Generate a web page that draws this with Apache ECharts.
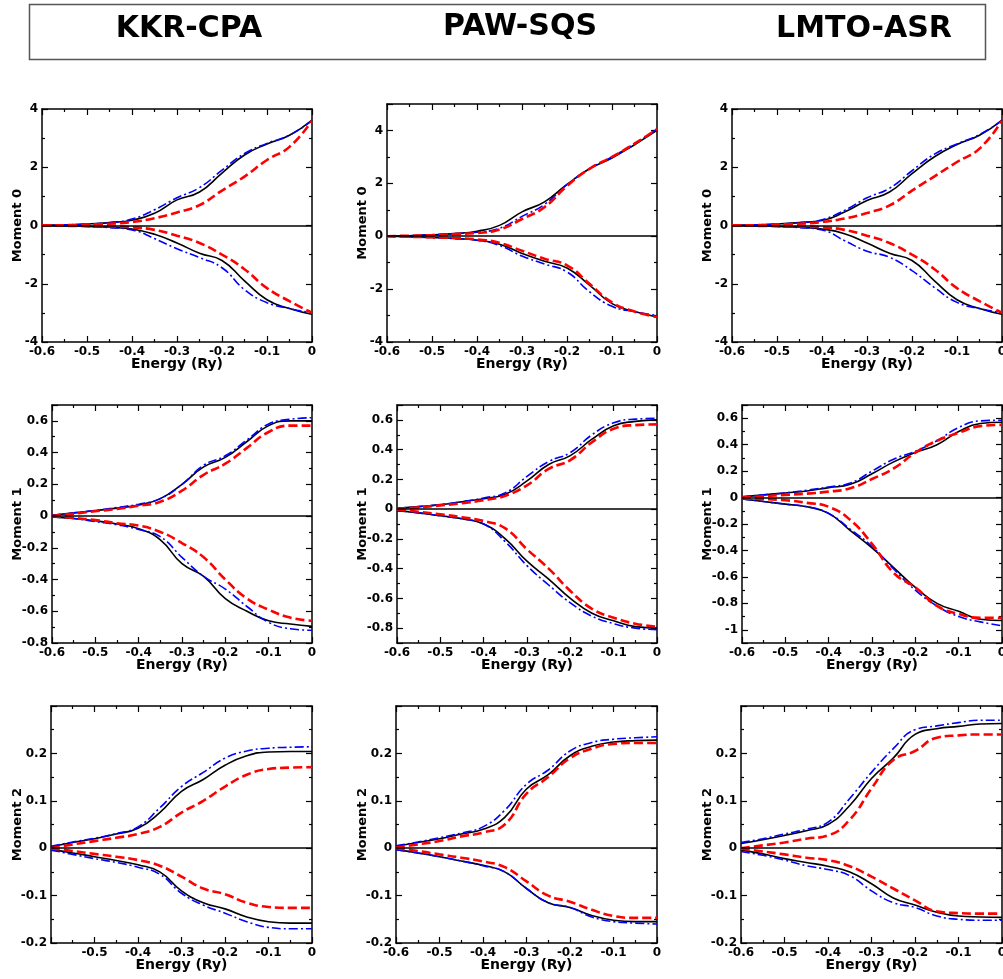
<!DOCTYPE html>
<html>
<head>
<meta charset="utf-8">
<script src="https://cdn.jsdelivr.net/npm/echarts@6/dist/echarts.min.js"></script>
<style>
  html, body { margin: 0; padding: 0; background: #fff; }
  #main { width: 1003px; height: 979px; }
</style>
</head>
<body>
<div id="main"></div>
<script>
// energy grid (Ry)
const energy = [-0.6, -0.55, -0.5, -0.45, -0.4, -0.35, -0.3, -0.25, -0.2, -0.15, -0.1, -0.05, 0];

const methods = ['KKR-CPA', 'PAW-SQS', 'LMTO-ASR'];

// ---- Moment 0 ----
const kkrM0SolidUp = [0, 0.02, 0.05, 0.1, 0.18, 0.42, 0.88, 1.15, 1.8, 2.42, 2.8, 3.1, 3.62];
const kkrM0DashDotUp = [0, 0.02, 0.05, 0.1, 0.22, 0.54, 0.95, 1.3, 1.9, 2.47, 2.82, 3.1, 3.6];
const kkrM0DashUp = [0, 0.01, 0.03, 0.06, 0.12, 0.25, 0.45, 0.7, 1.2, 1.68, 2.25, 2.7, 3.6];
const kkrM0SolidDn = [0, -0.01, -0.03, -0.06, -0.12, -0.3, -0.6, -0.95, -1.2, -1.9, -2.55, -2.85, -3.05];
const kkrM0DashDotDn = [0, -0.01, -0.03, -0.07, -0.15, -0.45, -0.8, -1.1, -1.45, -2.2, -2.65, -2.85, -3.0];
const kkrM0DashDn = [0, -0.01, -0.02, -0.03, -0.06, -0.15, -0.35, -0.6, -1.0, -1.5, -2.15, -2.6, -3.0];

const pawM0SolidUp = [0, 0.02, 0.05, 0.1, 0.19, 0.41, 0.92, 1.3, 1.96, 2.55, 2.96, 3.46, 4.0];
const pawM0DashDotUp = [0, 0.02, 0.05, 0.1, 0.15, 0.3, 0.75, 1.2, 1.95, 2.55, 3.0, 3.5, 4.05];
const pawM0DashUp = [0, 0.02, 0.04, 0.08, 0.12, 0.25, 0.65, 1.1, 1.9, 2.55, 3.0, 3.5, 4.05];
const pawM0SolidDn = [0, -0.02, -0.05, -0.08, -0.15, -0.3, -0.65, -0.95, -1.2, -1.85, -2.55, -2.85, -3.05];
const pawM0DashDotDn = [0, -0.02, -0.05, -0.09, -0.15, -0.35, -0.75, -1.05, -1.35, -2.1, -2.65, -2.85, -3.0];
const pawM0DashDn = [0, -0.02, -0.04, -0.07, -0.12, -0.25, -0.55, -0.85, -1.1, -1.8, -2.5, -2.85, -3.05];

const lmtoM0SolidUp = [0, 0.02, 0.05, 0.1, 0.17, 0.46, 0.86, 1.15, 1.78, 2.36, 2.78, 3.1, 3.62];
const lmtoM0DashDotUp = [0, 0.02, 0.05, 0.1, 0.2, 0.52, 0.95, 1.28, 1.88, 2.45, 2.8, 3.12, 3.6];
const lmtoM0DashUp = [0, 0.01, 0.03, 0.06, 0.12, 0.24, 0.43, 0.69, 1.2, 1.69, 2.18, 2.64, 3.6];
const lmtoM0SolidDn = [0, -0.01, -0.03, -0.06, -0.12, -0.28, -0.6, -0.95, -1.2, -1.9, -2.55, -2.85, -3.05];
const lmtoM0DashDotDn = [0, -0.01, -0.03, -0.07, -0.15, -0.52, -0.88, -1.09, -1.55, -2.13, -2.64, -2.85, -3.0];
const lmtoM0DashDn = [0, -0.01, -0.02, -0.03, -0.06, -0.15, -0.35, -0.6, -1.0, -1.5, -2.15, -2.6, -3.0];

// ---- Moment 1 ----
const kkrM1SolidUp = [0.005, 0.02, 0.035, 0.05, 0.07, 0.11, 0.2, 0.31, 0.37, 0.47, 0.57, 0.6, 0.6];
const kkrM1DashDotUp = [0.005, 0.02, 0.035, 0.055, 0.075, 0.11, 0.2, 0.32, 0.38, 0.48, 0.58, 0.61, 0.62];
const kkrM1DashUp = [0, 0.015, 0.03, 0.045, 0.065, 0.09, 0.16, 0.26, 0.33, 0.43, 0.53, 0.57, 0.57];
const kkrM1SolidDn = [-0.005, -0.015, -0.03, -0.05, -0.08, -0.15, -0.3, -0.38, -0.52, -0.6, -0.66, -0.68, -0.695];
const kkrM1DashDotDn = [-0.005, -0.015, -0.035, -0.055, -0.085, -0.13, -0.26, -0.38, -0.46, -0.57, -0.67, -0.71, -0.72];
const kkrM1DashDn = [0, -0.012, -0.025, -0.045, -0.06, -0.1, -0.17, -0.26, -0.4, -0.52, -0.59, -0.64, -0.66];

const pawM1SolidUp = [0.005, 0.017, 0.03, 0.05, 0.07, 0.1, 0.19, 0.3, 0.36, 0.47, 0.56, 0.59, 0.6];
const pawM1DashDotUp = [0.005, 0.017, 0.03, 0.05, 0.075, 0.11, 0.22, 0.32, 0.38, 0.5, 0.58, 0.605, 0.61];
const pawM1DashUp = [0, 0.012, 0.025, 0.04, 0.06, 0.09, 0.16, 0.27, 0.33, 0.45, 0.54, 0.565, 0.57];
const pawM1SolidDn = [-0.01, -0.025, -0.045, -0.065, -0.1, -0.2, -0.35, -0.47, -0.6, -0.7, -0.75, -0.79, -0.8];
const pawM1DashDotDn = [-0.01, -0.025, -0.045, -0.065, -0.1, -0.22, -0.38, -0.51, -0.63, -0.72, -0.77, -0.8, -0.81];
const pawM1DashDn = [0, -0.018, -0.035, -0.055, -0.08, -0.13, -0.27, -0.4, -0.55, -0.67, -0.73, -0.77, -0.79];

const lmtoM1SolidUp = [0.005, 0.02, 0.035, 0.05, 0.075, 0.1, 0.18, 0.27, 0.34, 0.4, 0.5, 0.56, 0.57];
const lmtoM1DashDotUp = [0.005, 0.02, 0.035, 0.055, 0.08, 0.11, 0.2, 0.29, 0.35, 0.43, 0.53, 0.58, 0.585];
const lmtoM1DashUp = [0, 0.01, 0.02, 0.03, 0.045, 0.07, 0.14, 0.22, 0.34, 0.43, 0.49, 0.54, 0.55];
const lmtoM1SolidDn = [-0.01, -0.03, -0.05, -0.07, -0.12, -0.25, -0.38, -0.53, -0.68, -0.8, -0.86, -0.92, -0.93];
const lmtoM1DashDotDn = [-0.01, -0.03, -0.05, -0.07, -0.12, -0.24, -0.37, -0.54, -0.7, -0.82, -0.9, -0.94, -0.97];
const lmtoM1DashDn = [-0.005, -0.012, -0.02, -0.04, -0.07, -0.17, -0.35, -0.57, -0.68, -0.82, -0.88, -0.91, -0.91];

// ---- Moment 2 ----
const kkrM2SolidUp = [0.003, 0.012, 0.02, 0.03, 0.042, 0.075, 0.12, 0.145, 0.175, 0.195, 0.203, 0.204, 0.204];
const kkrM2DashDotUp = [0.004, 0.013, 0.021, 0.031, 0.045, 0.085, 0.13, 0.16, 0.19, 0.205, 0.211, 0.213, 0.214];
const kkrM2DashUp = [0, 0.008, 0.015, 0.022, 0.03, 0.045, 0.075, 0.1, 0.13, 0.155, 0.167, 0.17, 0.171];
const kkrM2SolidDn = [-0.003, -0.01, -0.018, -0.026, -0.035, -0.05, -0.09, -0.115, -0.128, -0.145, -0.155, -0.158, -0.158];
const kkrM2DashDotDn = [-0.004, -0.013, -0.022, -0.03, -0.04, -0.055, -0.095, -0.12, -0.137, -0.155, -0.167, -0.17, -0.17];
const kkrM2DashDn = [0, -0.006, -0.012, -0.018, -0.025, -0.037, -0.06, -0.085, -0.097, -0.115, -0.124, -0.126, -0.126];

const pawM2SolidUp = [0.004, 0.012, 0.02, 0.03, 0.04, 0.065, 0.125, 0.155, 0.195, 0.215, 0.224, 0.227, 0.228];
const pawM2DashDotUp = [0.005, 0.013, 0.022, 0.032, 0.045, 0.08, 0.135, 0.165, 0.205, 0.223, 0.23, 0.233, 0.235];
const pawM2DashUp = [0.001, 0.008, 0.015, 0.025, 0.033, 0.05, 0.115, 0.15, 0.19, 0.21, 0.22, 0.222, 0.222];
const pawM2SolidDn = [-0.003, -0.01, -0.018, -0.027, -0.036, -0.05, -0.085, -0.115, -0.125, -0.142, -0.152, -0.155, -0.155];
const pawM2DashDotDn = [-0.003, -0.01, -0.018, -0.027, -0.037, -0.05, -0.085, -0.115, -0.125, -0.145, -0.155, -0.158, -0.16];
const pawM2DashDn = [0, -0.006, -0.013, -0.02, -0.028, -0.04, -0.07, -0.1, -0.113, -0.13, -0.143, -0.147, -0.147];

const lmtoM2SolidUp = [0.01, 0.018, 0.027, 0.037, 0.05, 0.09, 0.147, 0.19, 0.24, 0.252, 0.257, 0.262, 0.263];
const lmtoM2DashDotUp = [0.012, 0.02, 0.03, 0.04, 0.055, 0.105, 0.16, 0.21, 0.25, 0.258, 0.265, 0.27, 0.27];
const lmtoM2DashUp = [0, 0.006, 0.012, 0.02, 0.027, 0.06, 0.126, 0.186, 0.205, 0.233, 0.238, 0.24, 0.24];
const lmtoM2SolidDn = [-0.004, -0.012, -0.022, -0.03, -0.038, -0.05, -0.075, -0.105, -0.12, -0.135, -0.143, -0.145, -0.146];
const lmtoM2DashDotDn = [-0.007, -0.015, -0.025, -0.037, -0.045, -0.058, -0.09, -0.115, -0.125, -0.143, -0.15, -0.152, -0.152];
const lmtoM2DashDn = [-0.001, -0.007, -0.013, -0.02, -0.025, -0.038, -0.06, -0.085, -0.11, -0.133, -0.137, -0.138, -0.138];

const FONT = 'DejaVu Sans';

// line styles
const solidStyle = { color: '#000000', width: 1.6, type: 'solid' };
const dashStyle = { color: '#ff0000', width: 2.6, type: [9, 4] };
const dashDotStyle = { color: '#0000ff', width: 1.6, type: [9, 3, 2, 3] };

// panel layout: [left, top, width, height] in px
const panels = [
  { rect: [42, 109, 270, 233], y: { min: -4, max: 4, interval: 2 }, name: 'Moment 0', gap: 18,
    up: [kkrM0SolidUp, kkrM0DashDotUp, kkrM0DashUp], dn: [kkrM0SolidDn, kkrM0DashDotDn, kkrM0DashDn] },
  { rect: [387, 104, 270, 238], y: { min: -4, max: 5, interval: 2 }, name: 'Moment 0', gap: 18,
    up: [pawM0SolidUp, pawM0DashDotUp, pawM0DashUp], dn: [pawM0SolidDn, pawM0DashDotDn, pawM0DashDn] },
  { rect: [732, 109, 270, 233], y: { min: -4, max: 4, interval: 2 }, name: 'Moment 0', gap: 18,
    up: [lmtoM0SolidUp, lmtoM0DashDotUp, lmtoM0DashUp], dn: [lmtoM0SolidDn, lmtoM0DashDotDn, lmtoM0DashDn] },
  { rect: [52, 405, 260, 238], y: { min: -0.8, max: 0.7, interval: 0.2 }, name: 'Moment 1', gap: 28,
    up: [kkrM1SolidUp, kkrM1DashDotUp, kkrM1DashUp], dn: [kkrM1SolidDn, kkrM1DashDotDn, kkrM1DashDn] },
  { rect: [397, 405, 260, 238], y: { min: -0.9, max: 0.7, splitNumber: 8 }, name: 'Moment 1', gap: 28,
    up: [pawM1SolidUp, pawM1DashDotUp, pawM1DashUp], dn: [pawM1SolidDn, pawM1DashDotDn, pawM1DashDn] },
  { rect: [742, 405, 260, 238], y: { min: -1.1, max: 0.7, splitNumber: 9 }, name: 'Moment 1', gap: 28,
    up: [lmtoM1SolidUp, lmtoM1DashDotUp, lmtoM1DashUp], dn: [lmtoM1SolidDn, lmtoM1DashDotDn, lmtoM1DashDn] },
  { rect: [51, 706, 261, 237], y: { min: -0.2, max: 0.3, interval: 0.1 }, name: 'Moment 2', gap: 27, hideXMin: true,
    up: [kkrM2SolidUp, kkrM2DashDotUp, kkrM2DashUp], dn: [kkrM2SolidDn, kkrM2DashDotDn, kkrM2DashDn] },
  { rect: [396, 706, 261, 237], y: { min: -0.2, max: 0.3, interval: 0.1 }, name: 'Moment 2', gap: 27,
    up: [pawM2SolidUp, pawM2DashDotUp, pawM2DashUp], dn: [pawM2SolidDn, pawM2DashDotDn, pawM2DashDn] },
  { rect: [741, 706, 261, 237], y: { min: -0.2, max: 0.3, interval: 0.1 }, name: 'Moment 2', gap: 27,
    up: [lmtoM2SolidUp, lmtoM2DashDotUp, lmtoM2DashUp], dn: [lmtoM2SolidDn, lmtoM2DashDotDn, lmtoM2DashDn] }
];

const styles = [solidStyle, dashDotStyle, dashStyle];

const axisLine = { show: true, onZero: false, lineStyle: { color: '#000', width: 1.5 } };
const axisTick = { show: true, inside: true, length: 6, lineStyle: { color: '#000', width: 1.2 } };
const minorTick = { show: true, splitNumber: 2, length: 3, lineStyle: { color: '#000', width: 1.2 } };
const labelFont = { fontFamily: FONT, fontWeight: 'bold', fontSize: 12, color: '#000' };

const grid = [], xAxis = [], yAxis = [], series = [];

panels.forEach(function (p, i) {
  grid.push({ left: p.rect[0], top: p.rect[1], width: p.rect[2], height: p.rect[3], outerBoundsMode: 'none', containLabel: false });

  // bottom x axis with labels, top mirror
  xAxis.push({
    gridIndex: i, type: 'value', position: 'bottom', min: -0.6, max: 0, interval: 0.1,
    name: 'Energy (Ry)', nameLocation: 'middle', nameGap: 15, nameMoveOverlap: false,
    nameTextStyle: { fontFamily: FONT, fontWeight: 'bold', fontSize: 14, color: '#000' },
    axisLine: axisLine, axisTick: axisTick, minorTick: minorTick,
    axisLabel: Object.assign({ margin: 4, showMinLabel: !p.hideXMin, showMaxLabel: true }, labelFont),
    splitLine: { show: false }
  });
  xAxis.push({
    gridIndex: i, type: 'value', position: 'top', min: -0.6, max: 0, interval: 0.1,
    axisLine: axisLine, axisTick: axisTick, minorTick: minorTick,
    axisLabel: { show: false }, splitLine: { show: false }
  });

  const yScale = { min: p.y.min, max: p.y.max };
  if (p.y.interval) yScale.interval = p.y.interval;
  else yScale.splitNumber = p.y.splitNumber;
  const showMin = p.y.interval ? true : false;

  yAxis.push(Object.assign({
    gridIndex: i, type: 'value', position: 'left',
    name: p.name, nameLocation: 'middle', nameGap: p.gap, nameMoveOverlap: false,
    nameTextStyle: { fontFamily: FONT, fontWeight: 'bold', fontSize: 13, color: '#000' },
    axisLine: axisLine, axisTick: axisTick, minorTick: minorTick,
    axisLabel: Object.assign({ margin: 4, showMinLabel: showMin, showMaxLabel: p.y.max === 4 }, labelFont),
    splitLine: { show: false }
  }, yScale));
  yAxis.push(Object.assign({
    gridIndex: i, type: 'value', position: 'right',
    axisLine: axisLine, axisTick: axisTick, minorTick: minorTick,
    axisLabel: { show: false }, splitLine: { show: false }
  }, yScale));

  const curves = p.up.concat(p.dn);
  curves.forEach(function (vals, k) {
    const s = {
      type: 'line', xAxisIndex: 2 * i, yAxisIndex: 2 * i,
      data: energy.map(function (e, j) { return [e, vals[j]]; }),
      showSymbol: false, symbol: 'none', smooth: 0.5,
      lineStyle: styles[k % 3], silent: true, animation: false, z: 2 + (k % 3)
    };
    if (k === 0) {
      s.markLine = {
        silent: true, symbol: 'none', label: { show: false },
        lineStyle: { color: '#000', width: 1.5, type: 'solid' },
        data: [{ yAxis: 0 }], animation: false
      };
    }
    series.push(s);
  });
});

const headerCenters = [189, 520, 864];
const headerY = [29, 27, 29];

const graphic = [
  { type: 'rect', shape: { x: 29.5, y: 4.5, width: 956, height: 55 },
    style: { fill: '#fff', stroke: '#555', lineWidth: 1.5 }, z: 0 }
].concat(methods.map(function (m, i) {
  return {
    type: 'text', x: headerCenters[i], y: headerY[i], z: 1,
    style: { text: m, font: 'bold 30px "DejaVu Sans"', fill: '#000', align: 'center', verticalAlign: 'middle' }
  };
}));

const chart = echarts.init(document.getElementById('main'), null, { renderer: 'canvas' });
const option = {
  animation: false,
  backgroundColor: '#fff',
  graphic: graphic,
  grid: grid,
  xAxis: xAxis,
  yAxis: yAxis,
  series: series
};
option && chart.setOption(option);
</script>
</body>
</html>
